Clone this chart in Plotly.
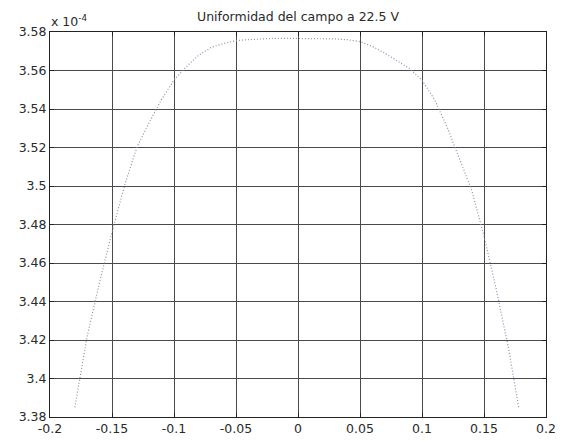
import plotly.graph_objects as go

# position along the axis (m)
x_pos = [-0.18, -0.17, -0.16, -0.15, -0.14, -0.13, -0.12, -0.11, -0.10, -0.09,
         -0.08, -0.07, -0.06, -0.05, -0.04, -0.03, -0.02, -0.01, 0.00, 0.01,
         0.02, 0.03, 0.04, 0.05, 0.06, 0.07, 0.08, 0.09, 0.10, 0.11,
         0.12, 0.13, 0.14, 0.15, 0.16, 0.17, 0.175, 0.178]
# field values, in units of 1e-4
field = [3.385, 3.422, 3.450, 3.476, 3.500, 3.520, 3.533, 3.545, 3.555, 3.562,
         3.568, 3.572, 3.574, 3.5755, 3.576, 3.5765, 3.5767, 3.5767, 3.5767, 3.5767,
         3.5766, 3.5764, 3.576, 3.575, 3.5725, 3.569, 3.565, 3.561, 3.555, 3.545,
         3.531, 3.515, 3.498, 3.474, 3.446, 3.415, 3.397, 3.385]

x_ticks = [-0.2, -0.15, -0.1, -0.05, 0, 0.05, 0.1, 0.15, 0.2]
x_ticklabels = ["-0.2", "-0.15", "-0.1", "-0.05", "0", "0.05", "0.1", "0.15", "0.2"]
y_ticks = [3.38, 3.40, 3.42, 3.44, 3.46, 3.48, 3.50, 3.52, 3.54, 3.56, 3.58]
y_ticklabels = ["3.38", "3.4", "3.42", "3.44", "3.46", "3.48", "3.5", "3.52", "3.54", "3.56", "3.58"]

title_text = "Uniformidad del campo a 22.5 V"
exponent_text = "x 10<sup>-4</sup>"

font_family = "DejaVu Sans, Liberation Sans, Arial, sans-serif"
text_color = "#2a2a2a"

fig = go.Figure()
fig.add_trace(go.Scatter(
    x=x_pos, y=field, mode="lines",
    line=dict(color="#8493a8", width=1.2, dash="1px,2px"),
    showlegend=False,
))

axis_common = dict(
    showline=True, linecolor="#222", linewidth=1, mirror="ticks",
    ticks="inside", ticklen=4, tickcolor="#222",
    showgrid=True, gridcolor="#4a4a4a", gridwidth=1,
    zeroline=False,
)

fig.update_layout(
    width=566, height=442,
    # page body adds an 8px offset, so margins are shifted accordingly
    margin=dict(l=42, r=28, t=24, b=33),
    paper_bgcolor="white", plot_bgcolor="white",
    xaxis=dict(range=[-0.2, 0.2], tickmode="array", tickvals=x_ticks,
               ticktext=x_ticklabels,
               tickfont=dict(family=font_family, size=12.5, color=text_color),
               **axis_common),
    yaxis=dict(range=[3.38, 3.58], tickmode="array", tickvals=y_ticks,
               ticktext=y_ticklabels,
               tickfont=dict(family=font_family, size=12.5, color=text_color),
               **axis_common),
    title=dict(text=title_text, x=0.5, xref="paper", xanchor="center",
               y=1, yref="paper", yanchor="bottom", pad=dict(b=11),
               font=dict(family=font_family, size=12.5, color=text_color)),
)

fig.add_annotation(
    text=exponent_text, xref="paper", yref="paper", x=-0.003, y=1.0,
    xanchor="left", yanchor="bottom", showarrow=False, yshift=1,
    font=dict(family=font_family, size=12.5, color=text_color),
)

fig.write_html("out.html")
